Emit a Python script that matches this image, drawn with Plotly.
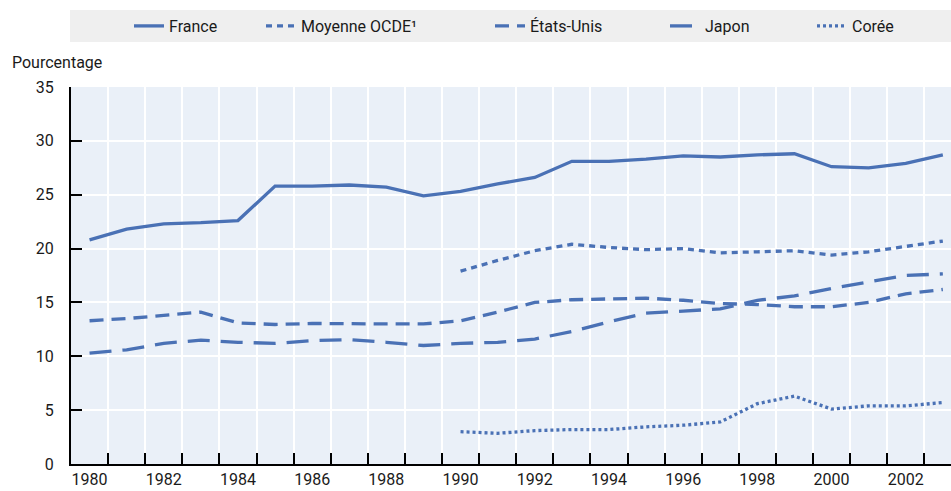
import plotly.graph_objects as go

years = list(range(1980, 2004))
years_90 = list(range(1990, 2004))

france = [20.8, 21.8, 22.3, 22.4, 22.6, 25.8, 25.8, 25.9, 25.7, 24.9,
          25.3, 26.0, 26.6, 28.1, 28.1, 28.3, 28.6, 28.5, 28.7, 28.8,
          27.6, 27.5, 27.9, 28.7]
ocde = [17.9, 18.9, 19.8, 20.4, 20.1, 19.9, 20.0, 19.6, 19.7, 19.8,
        19.4, 19.7, 20.2, 20.7]
etats_unis = [13.3, 13.5, 13.8, 14.1, 13.1, 12.95, 13.05, 13.0, 13.0, 13.0,
              13.3, 14.1, 15.0, 15.25, 15.3, 15.4, 15.2, 14.9, 14.8, 14.6,
              14.6, 15.0, 15.8, 16.2]
japon = [10.3, 10.6, 11.2, 11.5, 11.3, 11.2, 11.45, 11.55, 11.3, 11.0,
         11.2, 11.3, 11.6, 12.3, 13.2, 14.0, 14.2, 14.4, 15.2, 15.6,
         16.3, 16.9, 17.5, 17.65]
coree = [3.0, 2.85, 3.1, 3.2, 3.2, 3.45, 3.6, 3.9, 5.6, 6.3,
         5.1, 5.4, 5.4, 5.7]

x_labels = [str(y) for y in range(1980, 2003, 2)]
x_label_vals = list(range(1980, 2003, 2))
x_boundaries = [y + 0.5 for y in range(1980, 2003)]
y_ticks = [0, 5, 10, 15, 20, 25, 30, 35]

COLOR = "#4A71B5"
FONT = "Roboto, Liberation Sans, Arial, sans-serif"
TXT = "#1a1a1a"

W, H = 951, 491
ML, MR, MT, MB = 71, 0, 87, 27
PW = W - ML - MR
PH = H - MT - MB

def px_x(px):
    return (px - ML) / PW

def px_y(py):
    return (H - MB - py) / PH

fig = go.Figure()
series = [
    ("France", years, france, "solid", "legend"),
    ("Moyenne OCDE¹", years_90, ocde, "6px,5px", "legend2"),
    ("États-Unis", years, etats_unis, "14px,8px", "legend3"),
    ("Japon", years, japon, "22px,11px", "legend4"),
    ("Corée", years_90, coree, "3px,3px", "legend5"),
]
for name, xs, ys, dash, lg in series:
    fig.add_trace(go.Scatter(
        x=xs, y=ys, name=name, mode="lines",
        line=dict(color=COLOR, width=3.3, dash=dash),
        legend=lg, hoverinfo="skip"))

legend_origins = [129, 261, 490, 665, 812]
legend_keys = ["legend", "legend2", "legend3", "legend4", "legend5"]
leg_y = px_y(26)
layout_legends = {}
for key, ox in zip(legend_keys, legend_origins):
    layout_legends[key] = dict(
        x=px_x(ox), xanchor="left", y=leg_y, yanchor="middle",
        orientation="h", bgcolor="rgba(0,0,0,0)", borderwidth=0,
        font=dict(family=FONT, size=16, color=TXT),
        itemwidth=30)

fig.update_layout(
    width=W, height=H,
    margin=dict(l=ML, r=MR, t=MT, b=MB),
    paper_bgcolor="white",
    plot_bgcolor="#EAF0F8",
    font=dict(family=FONT, size=16, color=TXT),
    showlegend=True,
    **layout_legends,
    xaxis=dict(
        range=[1979.5, 1979.5 + PW / 37.1],
        tickmode="array", tickvals=x_label_vals, ticktext=x_labels,
        ticks="", showgrid=False, zeroline=False,
        showline=True, linecolor="black", linewidth=2,
        tickfont=dict(family=FONT, size=16, color=TXT),
        minor=dict(tickmode="array", tickvals=x_boundaries, ticks="inside",
                   ticklen=11, tickcolor="black", tickwidth=1.5,
                   showgrid=True, gridcolor="white", gridwidth=1.5),
    ),
    yaxis=dict(
        range=[0, 35], tickmode="array", tickvals=y_ticks,
        ticks="inside", ticklen=11, tickcolor="black", tickwidth=1.5,
        showgrid=True, gridcolor="white", gridwidth=2, zeroline=False,
        showline=True, linecolor="black", linewidth=2,
        ticklabelstandoff=12,
        tickfont=dict(family=FONT, size=16, color=TXT),
    ),
    shapes=[dict(type="rect", xref="paper", yref="paper",
                 x0=px_x(70), x1=1.0, y0=px_y(42), y1=px_y(10),
                 fillcolor="#EFEFEF", line=dict(width=0), layer="below")],
    annotations=[dict(text="Pourcentage", xref="paper", yref="paper",
                      x=px_x(10), y=px_y(62), xanchor="left", yanchor="middle",
                      showarrow=False,
                      font=dict(family=FONT, size=16, color=TXT))],
)

fig.write_html(
    "out.html",
    config={"displayModeBar": False},
    post_script="document.body.style.margin='0';document.body.style.padding='0';document.body.style.overflow='hidden';")
